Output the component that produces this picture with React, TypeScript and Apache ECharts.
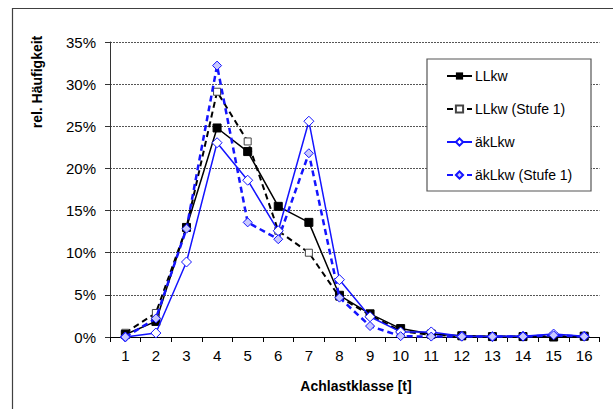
import React, { useEffect, useRef } from "react";
import * as echarts from "echarts";

const categories = ["1", "2", "3", "4", "5", "6", "7", "8", "9", "10", "11", "12", "13", "14", "15", "16"];
const llkw = [0.3, 1.85, 13.0, 24.8, 22.0, 15.5, 13.6, 4.95, 2.75, 1.0, 0.35, 0.15, 0.05, 0.05, 0.0, 0.1];
const llkwStufe1 = [0.5, 2.85, 13.0, 29.1, 23.2, 12.6, 10.0, 4.75, 2.6, 0.7, 0.25, 0.1, 0.05, 0.05, 0.1, 0.05];
const akLkw = [0.0, 0.47, 8.9, 23.05, 18.6, 12.6, 25.6, 6.8, 2.4, 0.6, 0.6, 0.1, 0.05, 0.1, 0.35, 0.1];
const akLkwStufe1 = [0.0, 2.2, 12.85, 32.2, 13.6, 11.6, 21.8, 4.67, 1.3, 0.1, 0.05, 0.05, 0.05, 0.05, 0.2, 0.05];
const seriesNames = ["LLkw", "LLkw (Stufe 1)", "äkLkw", "äkLkw (Stufe 1)"];
const yTicks = { min: 0, max: 35, interval: 5 };
const yTitle = "rel. Häufigkeit";
const xTitle = "Achlastklasse [t]";

const FONT = "Arial, 'Liberation Sans', sans-serif";
const BLUE = "#1414ff";

export default function App() {
  const ref = useRef<HTMLDivElement>(null);
  useEffect(() => {
    if (!ref.current) return;
    const chart = echarts.init(ref.current, undefined, { renderer: "svg" });
    chart.setOption({
      animation: false,
      backgroundColor: "#ffffff",
      textStyle: { fontFamily: FONT },
      grid: { left: 110, right: 13.5, top: 42, bottom: 72, containLabel: false },
      graphic: [
        {
          type: "rect",
          shape: { x: 12.5, y: 8.5, width: 700, height: 500 },
          style: { fill: "none", stroke: "#404040", lineWidth: 1.2 },
          silent: true,
        },
        {
          type: "rect",
          shape: { x: 427, y: 59, width: 164, height: 132 },
          style: { fill: "#ffffff", stroke: "#555555", lineWidth: 1.2 },
          z: 5,
          silent: true,
        },
        {
          type: "text",
          x: 37,
          y: 82,
          rotation: Math.PI / 2,
          style: {
            text: yTitle,
            fontFamily: FONT,
            fontWeight: "bold",
            fontSize: 14,
            fill: "#000",
            align: "center",
            verticalAlign: "middle",
          },
        },
        {
          type: "text",
          x: 356,
          y: 386,
          style: {
            text: xTitle,
            fontFamily: FONT,
            fontWeight: "bold",
            fontSize: 14,
            fill: "#000",
            align: "center",
            verticalAlign: "middle",
          },
        },
      ],
      legend: {
        show: true,
        orient: "vertical",
        left: 446,
        top: 69,
        padding: 0,
        itemWidth: 25,
        itemHeight: 9,
        itemGap: 19,
        z: 10,
        textStyle: { fontFamily: FONT, fontSize: 14, lineHeight: 14, height: 14, color: "#000", padding: [0, 0, 0, -2] },
        data: seriesNames,
      },
      xAxis: {
        type: "category",
        data: categories,
        boundaryGap: true,
        axisLine: { lineStyle: { color: "#000", width: 1 } },
        axisTick: { show: true, interval: 0, length: 5, alignWithLabel: false, lineStyle: { color: "#000" } },
        axisLabel: { color: "#000", fontSize: 15, fontFamily: FONT, margin: 11, interval: 0 },
        splitLine: { show: false },
      },
      yAxis: {
        type: "value",
        min: yTicks.min,
        max: yTicks.max,
        interval: yTicks.interval,
        axisLine: { show: true, lineStyle: { color: "#333", width: 1 } },
        axisTick: { show: true, length: 5, lineStyle: { color: "#333" } },
        axisLabel: { color: "#000", fontSize: 15, fontFamily: FONT, margin: 14, formatter: "{value}%" },
        splitLine: { show: true, lineStyle: { color: "#555", type: [2, 1], width: 1 } },
      },
      series: [
        {
          name: seriesNames[0],
          type: "line",
          data: llkw,
          symbol: "rect",
          symbolSize: 8,
          itemStyle: { color: "#000", borderColor: "#000" },
          lineStyle: { color: "#000", width: 1.5, type: "solid" },
          z: 3,
        },
        {
          name: seriesNames[1],
          type: "line",
          data: llkwStufe1,
          symbol: "rect",
          symbolSize: 7,
          itemStyle: { color: "#ffffff", borderColor: "#444", borderWidth: 1 },
          lineStyle: { color: "#000", width: 2, type: [6, 4] },
          z: 2,
        },
        {
          name: seriesNames[2],
          type: "line",
          data: akLkw,
          symbol: "diamond",
          symbolSize: 10,
          itemStyle: { color: "#ffffff", borderColor: BLUE, borderWidth: 1 },
          lineStyle: { color: BLUE, width: 1.5, type: "solid" },
          z: 4,
        },
        {
          name: seriesNames[3],
          type: "line",
          data: akLkwStufe1,
          symbol: "diamond",
          symbolSize: 9,
          itemStyle: { color: "#c8c8ff", borderColor: BLUE, borderWidth: 1 },
          lineStyle: { color: BLUE, width: 2.5, type: [6, 4] },
          z: 4,
        },
      ],
    });
    return () => chart.dispose();
  }, []);
  return <div ref={ref} style={{ width: 613, height: 409, position: "absolute", left: 0, top: 0 }} />;
}
